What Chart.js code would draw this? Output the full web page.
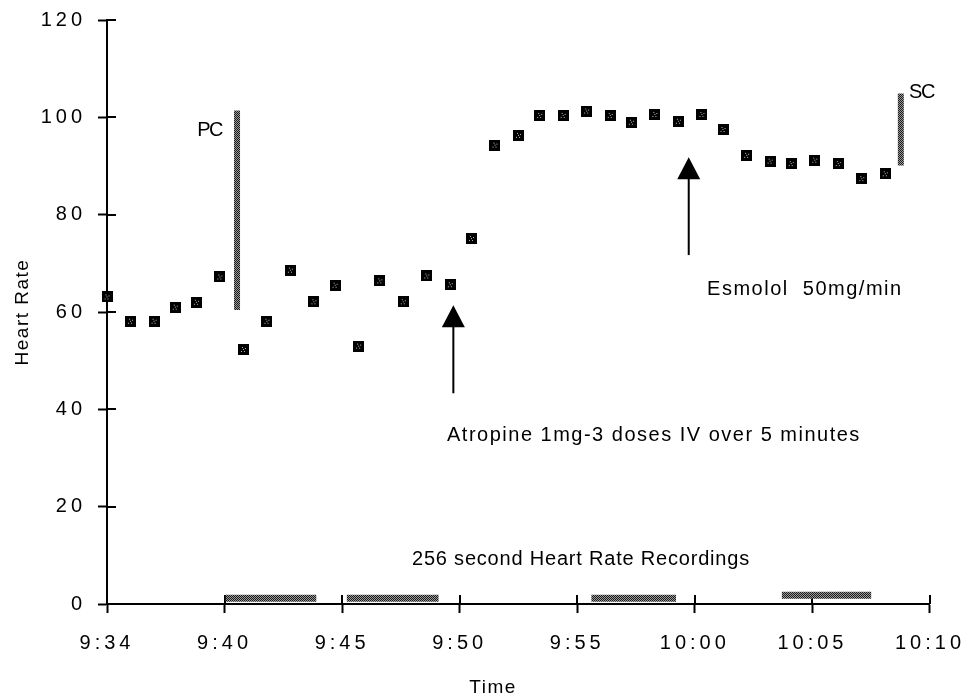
<!DOCTYPE html>
<html>
<head>
<meta charset="utf-8">
<script src="https://cdn.jsdelivr.net/npm/chart.js@4.4.1/dist/chart.umd.min.js"></script>
<style>
  body { margin: 0; background: #fff; }
  #wrap { width: 973px; height: 697px; }
</style>
</head>
<body>
<div id="wrap"><canvas id="hr" width="973" height="697"></canvas></div>
<script>
// time axis runs in minutes from the first tick, 5 minutes per tick
const timeTicks = ["9:34", "9:40", "9:45", "9:50", "9:55", "10:00", "10:05", "10:10"]

const hrTime = [0, 1.0, 2.0, 2.9, 3.8, 4.8, 5.8, 6.8, 7.8, 8.8,
  9.7, 10.7, 11.6, 12.6, 13.6, 14.6, 15.5, 16.5, 17.5, 18.4,
  19.4, 20.4, 21.4, 22.3, 23.3, 24.3, 25.3, 26.2, 27.2, 28.2,
  29.1, 30.1, 31.1, 32.1, 33.1]
const hrValue = [63.1, 58.1, 58.1, 61.0, 62.0, 67.2, 52.3, 58.1, 68.6, 62.1,
  65.5, 53.0, 66.4, 62.1, 67.4, 65.6, 75.1, 94.3, 96.3, 100.4,
  100.4, 101.3, 100.4, 99.0, 100.6, 99.2, 100.6, 97.5, 92.2, 91.0,
  90.5, 91.2, 90.5, 87.4, 88.4]

// 256 second recording windows along the time axis
const recStart = [5.05, 10.2, 20.6, 28.7]
const recEnd = [8.9, 14.1, 24.2, 32.5]
const recLevel = [1.2, 1.2, 1.2, 1.8]

// PC / SC markers
const pcTime = 5.53
const pcRange = [60.4, 101.4]
const scTime = 33.76
const scRange = [90.1, 104.9]

// drug arrows
const arrowTime = [14.73, 24.74]
const arrowTip = [61.4, 91.8]
const arrowTail = [43.3, 71.7]

// text notes (time, heart rate)
const noteText = ["PC", "SC", "Atropine 1mg-3 doses IV over 5 minutes", "Esmolol  50mg/min", "256 second Heart Rate Recordings"]
const noteTime = [4.89, 34.11, 14.46, 25.52, 12.97]
const noteValue = [97.3, 105.2, 34.7, 64.7, 9.24]

const FONT = '"Liberation Sans", Arial, sans-serif'
Chart.defaults.font.family = FONT
Chart.defaults.color = "#000"

// black square marker with a few light specks
function makeMarker() {
  const c = document.createElement("canvas")
  c.width = 11
  c.height = 11
  const g = c.getContext("2d")
  g.fillStyle = "#000"
  g.fillRect(0, 0, 11, 11)
  g.fillStyle = "#bdbdbd"
  ;[[4, 3], [7, 4], [5, 5], [6, 7], [3, 7]].forEach(p => g.fillRect(p[0], p[1], 1, 1))
  return c
}

// stippled grey used by the bars
function makeStipple() {
  const c = document.createElement("canvas")
  c.width = 2
  c.height = 2
  const g = c.getContext("2d")
  g.fillStyle = "#9a9a9a"
  g.fillRect(0, 0, 2, 2)
  g.fillStyle = "#1a1a1a"
  g.fillRect(0, 0, 1, 1)
  g.fillRect(1, 1, 1, 1)
  return g.createPattern(c, "repeat")
}

const stipple = makeStipple()

const recData = []
recStart.forEach((s, i) => {
  recData.push({ x: s, y: recLevel[i] }, { x: recEnd[i], y: recLevel[i] }, { x: recEnd[i] + 0.01, y: null })
})

const spacedTicks = {
  id: "spacedTicks",
  beforeDraw(chart) {
    chart.ctx.letterSpacing = "1.5px"
    ;[chart.scales.x, chart.scales.y].forEach(s => {
      if (s._spaced) return
      const orig = s.drawLabels.bind(s)
      s.drawLabels = area => {
        const ctx = chart.ctx
        ctx.save()
        ctx.letterSpacing = "4px"
        orig(area)
        ctx.restore()
      }
      s._spaced = true
    })
  }
}

// tick marks cross the axis lines
const innerTicks = {
  id: "innerTicks",
  beforeDatasetsDraw(chart) {
    const { ctx, scales: { x, y }, chartArea } = chart
    ctx.save()
    ctx.strokeStyle = "#000"
    ctx.lineWidth = 2
    ctx.beginPath()
    x.ticks.forEach((t, i) => {
      const px = Math.round(x.getPixelForTick(i))
      ctx.moveTo(px, chartArea.bottom)
      ctx.lineTo(px, chartArea.bottom - 9)
    })
    y.ticks.forEach((t, i) => {
      const py = Math.round(y.getPixelForTick(i))
      ctx.moveTo(chartArea.left, py)
      ctx.lineTo(chartArea.left + 9, py)
    })
    ctx.stroke()
    ctx.restore()
  }
}

const noteSpacing = { 0: "-1.5px", 1: "-1.5px", 4: "0.8px" }

const notes = {
  id: "notes",
  afterDatasetsDraw(chart) {
    const { ctx, scales: { x, y } } = chart
    ctx.save()
    ctx.fillStyle = "#000"
    ctx.strokeStyle = "#000"

    // arrows
    arrowTime.forEach((t, i) => {
      const px = x.getPixelForValue(t)
      const tip = y.getPixelForValue(arrowTip[i])
      const tail = y.getPixelForValue(arrowTail[i])
      ctx.lineWidth = 2
      ctx.beginPath()
      ctx.moveTo(px, tail)
      ctx.lineTo(px, tip + 20)
      ctx.stroke()
      ctx.beginPath()
      ctx.moveTo(px, tip)
      ctx.lineTo(px + 11.5, tip + 22)
      ctx.lineTo(px - 11.5, tip + 22)
      ctx.closePath()
      ctx.fill()
    })

    ctx.textBaseline = "middle"
    ctx.font = "20px " + FONT
    noteText.forEach((txt, i) => {
      ctx.letterSpacing = noteSpacing[i] || "1.5px"
      ctx.textAlign = i === 0 ? "right" : "left"
      ctx.fillText(txt, x.getPixelForValue(noteTime[i]), y.getPixelForValue(noteValue[i]))
    })

    // x axis title
    ctx.letterSpacing = "1.5px"
    ctx.font = "19px " + FONT
    ctx.textAlign = "center"
    ctx.fillText("Time", x.getPixelForValue(16.42), chart.height - 9)
    ctx.restore()
  }
}

new Chart(document.getElementById("hr"), {
  type: "scatter",
  data: {
    datasets: [
      {
        label: "Heart Rate",
        data: hrTime.map((t, i) => ({ x: t, y: hrValue[i] })),
        pointStyle: makeMarker(),
        pointRadius: 5,
        clip: false,
      },
      {
        label: "PC",
        data: [{ x: pcTime, y: pcRange[0] }, { x: pcTime, y: pcRange[1] }],
        showLine: true,
        borderColor: stipple,
        borderWidth: 6,
        borderCapStyle: "butt",
        pointRadius: 0,
      },
      {
        label: "SC",
        data: [{ x: scTime, y: scRange[0] }, { x: scTime, y: scRange[1] }],
        showLine: true,
        borderColor: stipple,
        borderWidth: 6,
        borderCapStyle: "butt",
        pointRadius: 0,
      },
      {
        label: "Recordings",
        data: recData,
        showLine: true,
        spanGaps: false,
        borderColor: stipple,
        borderWidth: 7,
        borderCapStyle: "butt",
        pointRadius: 0,
        clip: false,
      },
    ],
  },
  options: {
    responsive: false,
    animation: false,
    events: [],
    layout: { padding: { left: 0, right: 42, top: 20, bottom: 0 } },
    plugins: {
      legend: { display: false },
      tooltip: { enabled: false },
    },
    scales: {
      x: {
        type: "linear",
        min: 0,
        max: 35,
        afterFit: s => { s.height = 93 },
        ticks: {
          stepSize: 5,
          autoSkip: false,
          maxRotation: 0,
          padding: 18,
          font: { size: 20 },
          color: "#000",
          callback: v => timeTicks[Math.round(v / 5)],
        },
        grid: { drawOnChartArea: false, tickLength: 9, tickWidth: 2, tickColor: "#000" },
        border: { color: "#000", width: 2 },
      },
      y: {
        min: 0,
        max: 120,
        afterFit: s => {
          s.width = 107
          s.paddingTop = 10
          s.paddingBottom = 10
        },
        ticks: {
          stepSize: 20,
          padding: 12,
          font: { size: 20 },
          color: "#000",
        },
        grid: { drawOnChartArea: false, tickLength: 9, tickWidth: 2, tickColor: "#000" },
        border: { color: "#000", width: 2 },
        title: {
          display: true,
          text: "Heart Rate",
          font: { size: 19, lineHeight: 1 },
          padding: { top: 13, bottom: 0 },
          color: "#000",
        },
      },
    },
  },
  plugins: [spacedTicks, innerTicks, notes],
})
</script>
</body>
</html>
